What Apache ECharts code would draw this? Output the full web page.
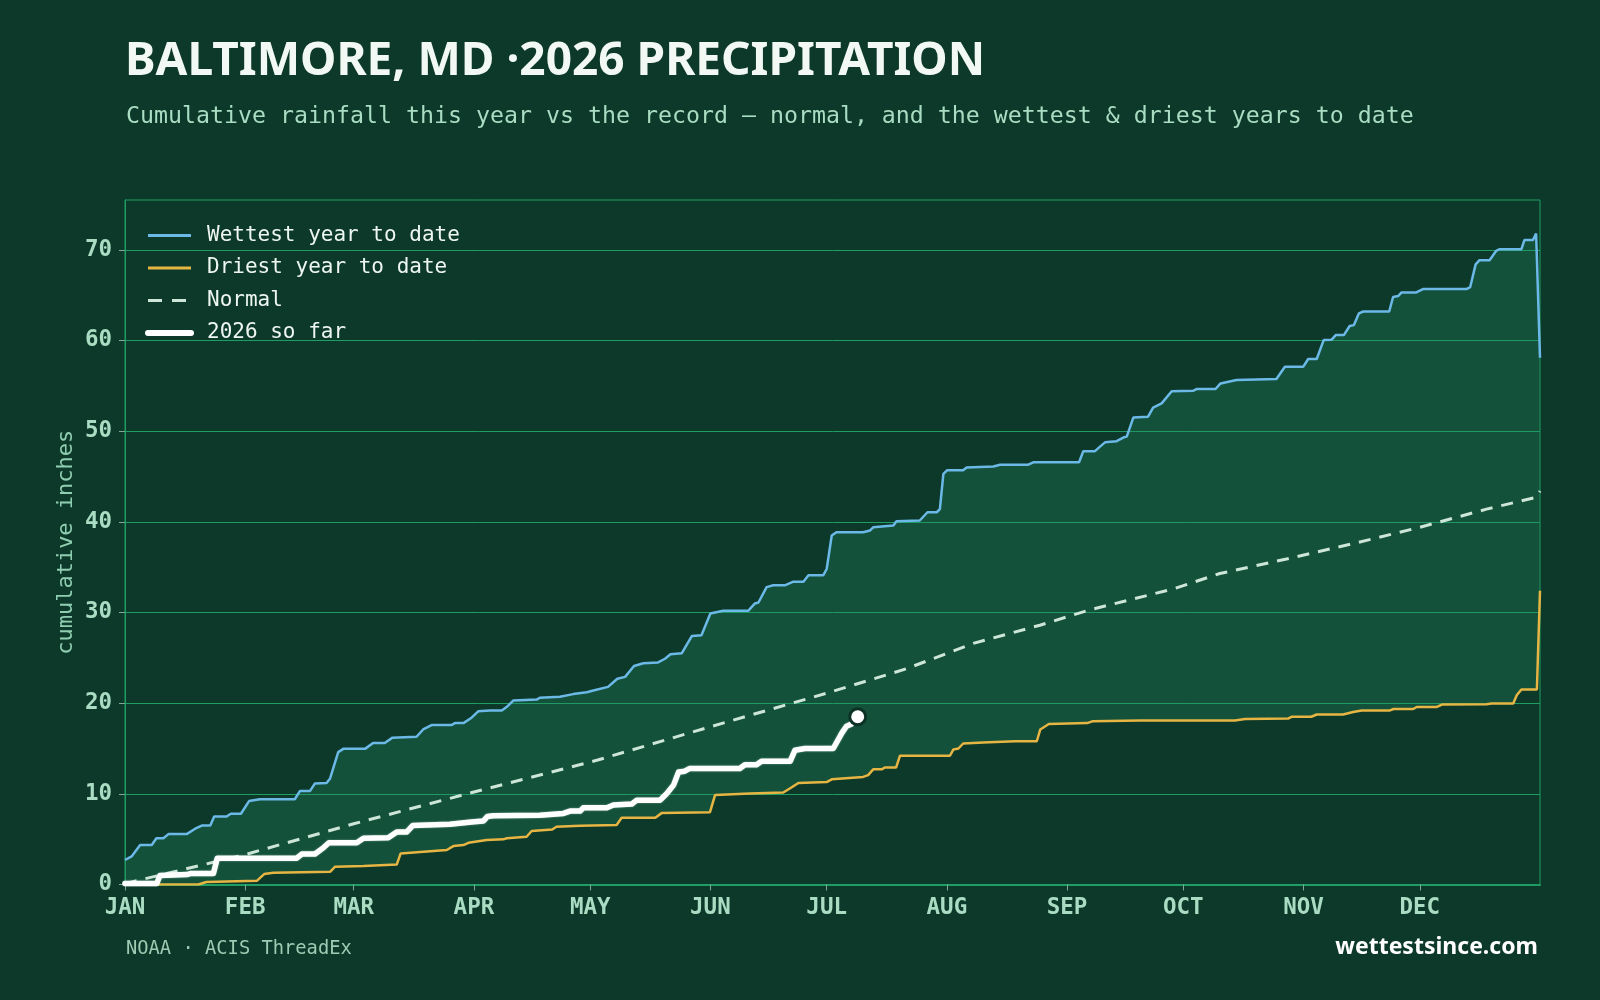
<!DOCTYPE html>
<html>
<head>
<meta charset="utf-8">
<script src="https://cdn.jsdelivr.net/npm/echarts@6/dist/echarts.min.js"></script>
<style>
  html, body { margin: 0; padding: 0; background: #0c392a; }
  #chart { width: 1600px; height: 1000px; }
</style>
</head>
<body>
<div id="chart"></div>
<script>
// day of year (0 = Jan 1) vs cumulative inches
const monthStarts = [0, 31, 59, 90, 120, 151, 181, 212, 243, 273, 304, 334];
const monthLabels = ['JAN', 'FEB', 'MAR', 'APR', 'MAY', 'JUN', 'JUL', 'AUG', 'SEP', 'OCT', 'NOV', 'DEC'];
const yTicks = [0, 10, 20, 30, 40, 50, 60, 70];

const wettest = [
  [0, 2.7], [1.7, 3.1], [3.9, 4.35], [6.9, 4.35], [8.1, 5.1], [9.9, 5.1], [11.2, 5.56], [15.9, 5.56],
  [18.1, 6.15], [19.8, 6.5], [22, 6.5], [23, 7.5], [26.2, 7.5], [27.3, 7.8], [29.9, 7.8], [32, 9.2],
  [34.8, 9.4], [43.8, 9.4], [45.1, 10.3], [47.7, 10.3], [49, 11.15], [52, 11.2], [52.9, 11.7], [55, 14.6],
  [56.3, 14.96], [61.9, 14.96], [64, 15.6], [67, 15.6], [69, 16.2], [75.2, 16.3], [76.9, 17.1], [79.2, 17.6],
  [84.3, 17.6], [85.1, 17.8], [87.3, 17.8], [89.4, 18.4], [91.1, 19.1], [94.1, 19.2], [97.2, 19.2], [98.5, 19.6],
  [100.2, 20.3], [106.2, 20.4], [107, 20.6], [112.2, 20.7], [115.6, 21.0], [119.1, 21.2], [120.8, 21.4], [124.6, 21.8],
  [127, 22.7], [129, 22.9], [131.3, 24.1], [133.7, 24.4], [137.5, 24.5], [139.3, 24.9], [140.7, 25.4], [143.6, 25.5],
  [146.2, 27.4], [148.7, 27.5], [151, 29.9], [154.3, 30.2], [160.8, 30.2], [162.5, 31.0], [163.4, 31.1], [165.5, 32.8],
  [167.2, 33.0], [170.2, 33.0], [172.4, 33.4], [175, 33.4], [176.3, 34.1], [180.1, 34.1], [181, 34.8], [182.3, 38.5],
  [183.5, 38.86], [190.4, 38.86], [192.2, 39.05], [193, 39.4], [198.2, 39.6], [199, 40.07], [205, 40.15], [207, 41.06],
  [209.4, 41.06], [210.2, 41.4], [211.1, 45.3], [212.1, 45.7], [216.2, 45.7], [217.1, 46.0], [224, 46.1], [225.7, 46.3],
  [233, 46.3], [234.3, 46.57], [246.1, 46.57], [247.2, 47.8], [250.2, 47.8], [251.5, 48.3], [252.8, 48.77], [255.8, 48.9],
  [257.5, 49.3], [258.4, 49.4], [260.1, 51.5], [263.9, 51.6], [265.2, 52.6], [267.4, 53.07], [270, 54.4], [275.6, 54.47],
  [276.4, 54.65], [281.3, 54.65], [282.6, 55.27], [286.7, 55.65], [297, 55.75], [299.2, 57.1], [303.9, 57.1], [305.2, 57.96],
  [307.4, 57.96], [309.2, 60.05], [311.2, 60.08], [312.3, 60.6], [314.4, 60.6], [315.9, 61.6], [317, 61.7], [318.3, 63.0],
  [319.4, 63.2], [326.1, 63.2], [327.1, 64.8], [328.4, 64.9], [329.3, 65.3], [333.1, 65.3], [334.8, 65.67], [346, 65.67],
  [347, 65.9], [348.4, 68.4], [349.4, 68.86], [352, 68.86], [353.7, 69.9], [354.6, 70.07], [360.2, 70.07], [361, 71.1],
  [363.2, 71.1], [364, 71.8], [365, 58.1]
];

const driest = [
  [0, 0], [18.9, 0], [21, 0.27], [34, 0.4], [35.9, 1.15], [38.3, 1.3], [52.9, 1.4], [54.2, 1.96],
  [61.5, 2.04], [70.1, 2.2], [71.1, 3.43], [83, 3.8], [84.7, 4.24], [87.3, 4.35], [88.6, 4.6], [93.3, 4.9],
  [97.6, 4.98], [98.5, 5.1], [103.6, 5.27], [104.9, 5.9], [110.2, 6.07], [111.3, 6.37], [117.4, 6.48], [126.8, 6.55],
  [128.1, 7.36], [136.8, 7.36], [138.5, 7.9], [150.9, 7.98], [152.2, 9.86], [161.2, 10.05], [169.8, 10.15], [171.9, 10.7],
  [173.7, 11.2], [181, 11.3], [182.3, 11.6], [190.4, 11.87], [191.7, 12.06], [193, 12.7], [195.2, 12.7], [196, 12.9],
  [198.9, 12.9], [199.9, 14.2], [212.8, 14.2], [213.7, 14.9], [215, 15.0], [216.2, 15.55], [221.4, 15.66], [229.6, 15.8],
  [235.2, 15.8], [236.1, 17.1], [238.3, 17.7], [248.2, 17.8], [249.5, 18.0], [261.8, 18.1], [286.3, 18.1], [288.9, 18.26],
  [300, 18.3], [300.9, 18.5], [306, 18.5], [307.4, 18.75], [314.2, 18.75], [316.8, 19.03], [319, 19.2], [326.3, 19.2],
  [327.2, 19.36], [332.3, 19.36], [333.2, 19.58], [338.4, 19.58], [339.7, 19.85], [351.2, 19.88], [352.5, 19.96], [358.1, 19.96],
  [359, 20.87], [360.2, 21.5], [364.2, 21.5], [365, 32.4]
];

const normal = [
  [0, 0.1], [31, 3.3], [59, 6.7], [90, 10.2], [121.7, 13.7], [151, 17.4], [181, 21.1], [201.6, 23.8],
  [218.8, 26.6], [236, 28.6], [248.9, 30.3], [270.4, 32.6], [282.4, 34.3], [299.6, 35.9], [316.8, 37.6], [334, 39.4],
  [351.2, 41.4], [364, 42.7], [365, 43.4]
];

const thisYear = [
  [0, 0.1], [8.2, 0.1], [9, 1.0], [16, 1.1], [16.8, 1.2], [22.8, 1.2], [23.8, 2.9], [44.3, 2.9],
  [45.6, 3.36], [49, 3.36], [51.3, 4.1], [52.6, 4.6], [59.8, 4.6], [61.5, 5.1], [67.9, 5.15], [70.1, 5.8],
  [72.7, 5.8], [74.2, 6.5], [83.8, 6.65], [89.4, 6.9], [92.4, 7.0], [93.5, 7.5], [95, 7.58], [107, 7.65],
  [113.1, 7.84], [114.8, 8.1], [117.4, 8.1], [118.2, 8.46], [124.3, 8.46], [126, 8.76], [130.7, 8.87], [132, 9.3],
  [138, 9.3], [139.7, 10.0], [141.5, 10.96], [142.8, 12.4], [144.4, 12.5], [145.7, 12.8], [158.6, 12.8], [159.9, 13.2],
  [162.9, 13.2], [164.2, 13.6], [171.6, 13.6], [172.8, 14.8], [175.4, 15.0], [182.7, 15.0], [184.9, 16.7], [186.1, 17.45],
  [187.4, 17.7], [189, 18.5]
];

const BG = '#0c392a';
const GRID = '#1f9e63';
const LABEL = '#a9dcc2';
const MONO = '"DejaVu Sans Mono", monospace';
const SANS = '"Noto Sans", sans-serif';

const WET = '#6cb9e8';
const DRY = '#e6b543';
const NORM = '#cde6d8';

const chart = echarts.init(document.getElementById('chart'), null, { renderer: 'canvas' });

const option = {
  backgroundColor: BG,
  animation: false,
  title: [
    {
      text: 'BALTIMORE, MD ·2026 PRECIPITATION',
      left: 120, top: 34,
      textStyle: { fontFamily: SANS, fontWeight: 'bold', fontSize: 46, color: '#f2f8f4' }
    },
    {
      text: 'Cumulative rainfall this year vs the record — normal, and the wettest & driest years to date',
      left: 121, top: 100,
      textStyle: { fontFamily: MONO, fontWeight: 'normal', fontSize: 23.25, color: LABEL }
    },
    {
      text: 'NOAA · ACIS ThreadEx',
      left: 121, top: 935,
      textStyle: { fontFamily: MONO, fontWeight: 'normal', fontSize: 18.75, color: '#9fcab3' }
    },
    {
      text: 'wettestsince.com',
      right: 57, top: 931,
      textStyle: { fontFamily: SANS, fontWeight: 'bold', fontSize: 23, color: '#ffffff' }
    }
  ],
  legend: {
    data: [
      { name: 'Wettest year to date', lineStyle: { color: WET, width: 3 } },
      { name: 'Driest year to date', lineStyle: { color: DRY, width: 3 } },
      { name: 'Normal', lineStyle: { color: NORM, width: 3, type: [14, 10] } },
      { name: '2026 so far', lineStyle: { color: '#ffffff', width: 6, cap: 'round' } }
    ],
    orient: 'vertical',
    left: 140, top: 220,
    itemWidth: 43, itemHeight: 14, itemGap: 11.5,
    itemStyle: { opacity: 0, borderWidth: 0 },
    textStyle: { fontFamily: MONO, fontSize: 21, color: '#eef6f1', padding: [0, 0, 0, 11] }
  },
  grid: {
    left: 125, right: 60, top: 200, bottom: 115.5,
    show: true, borderColor: GRID, borderWidth: 1, backgroundColor: 'transparent'
  },
  xAxis: {
    type: 'value', min: 0, max: 365,
    axisLine: { show: true, lineStyle: { color: GRID, width: 2 } },
    axisTick: { show: true, customValues: monthStarts, length: 6, lineStyle: { color: '#7fa995' } },
    axisLabel: {
      customValues: monthStarts,
      formatter: v => monthLabels[monthStarts.indexOf(v)] || '',
      fontFamily: MONO, fontWeight: 'bold', fontSize: 22.5, color: LABEL, margin: 12
    },
    splitLine: { show: false }
  },
  yAxis: {
    type: 'value', min: 0, max: 75.5, interval: 10,
    name: 'cumulative inches', nameLocation: 'middle', nameGap: 48,
    nameMoveOverlap: false,
    nameTextStyle: { fontFamily: MONO, fontSize: 22, color: '#8fcdb0' },
    axisLine: { show: true, lineStyle: { color: GRID, width: 1 } },
    axisTick: { show: true, customValues: yTicks, length: 6, lineStyle: { color: '#7fa995' } },
    axisLabel: {
      customValues: yTicks,
      formatter: v => (yTicks.indexOf(v) >= 0 ? String(v) : ''),
      fontFamily: MONO, fontWeight: 'bold', fontSize: 22.5, color: LABEL, margin: 13
    },
    splitLine: { show: true, lineStyle: { color: GRID, width: 1 } }
  },
  series: [
    {
      name: 'band',
      type: 'custom',
      coordinateSystem: 'cartesian2d',
      silent: true,
      clip: true,
      z: 1,
      data: [[0, 0]],
      renderItem: function (params, api) {
        const top = wettest.map(p => api.coord(p));
        const bottom = driest.slice().reverse().map(p => api.coord(p));
        return {
          type: 'polygon',
          shape: { points: top.concat(bottom) },
          style: { fill: 'rgba(36,138,98,0.3)' }
        };
      }
    },
    {
      name: 'Wettest year to date',
      type: 'line', data: wettest, showSymbol: false, symbol: 'none', z: 3,
      lineStyle: { color: WET, width: 2.5 },
      itemStyle: { color: WET }
    },
    {
      name: 'Driest year to date',
      type: 'line', data: driest, showSymbol: false, symbol: 'none', z: 3,
      lineStyle: { color: DRY, width: 2.5 },
      itemStyle: { color: DRY }
    },
    {
      name: 'Normal',
      type: 'line', data: normal, showSymbol: false, symbol: 'none', z: 2,
      lineStyle: { color: NORM, width: 3, type: [12, 9] },
      itemStyle: { color: NORM }
    },
    {
      name: '2026 so far',
      type: 'line', data: thisYear, showSymbol: false, symbol: 'none', z: 4,
      lineStyle: { color: '#ffffff', width: 5.5, cap: 'round', join: 'round',
        shadowColor: 'rgba(220,245,230,0.5)', shadowBlur: 2 },
      itemStyle: { color: '#ffffff' }
    },
    {
      name: 'today',
      type: 'scatter', z: 5,
      data: [thisYear[thisYear.length - 1]],
      symbol: 'circle', symbolSize: 16,
      itemStyle: { color: '#ffffff', opacity: 1, borderColor: '#0c3226', borderWidth: 3 }
    }
  ]
};

chart.setOption(option);
</script>
</body>
</html>
